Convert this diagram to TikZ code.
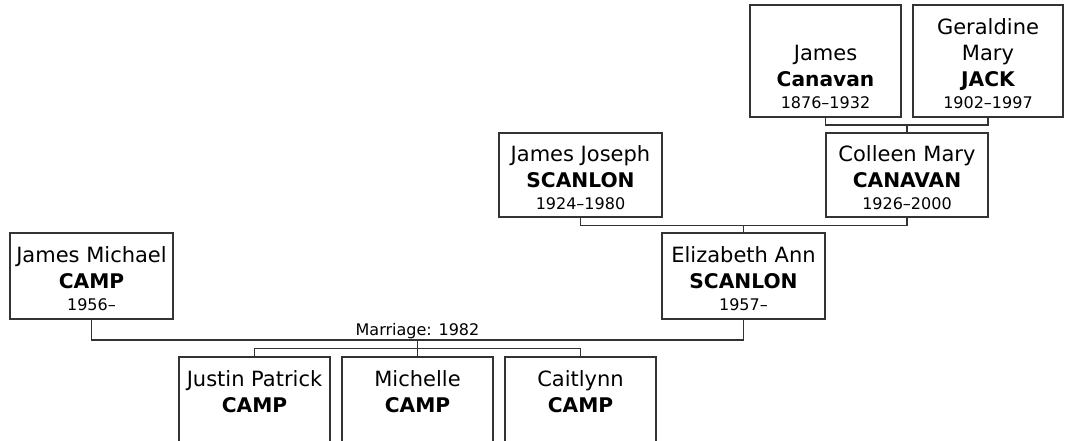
\documentclass[tikz,border=0pt]{standalone}
\usepackage{fontspec}
\setmainfont{DejaVu Sans}
\newcommand{\datef}{\fontsize{16}{19}\selectfont}
\newcommand{\boldf}{\fontsize{20.2}{26}\selectfont\bfseries}
\newcommand{\topstrut}{\rule{0pt}{22pt}}
\newcommand{\pers}[3]{#1\\{\boldf #2}\\[-4pt]{\datef #3}}
\begin{document}
\begin{tikzpicture}[x=1pt,y=-1pt,
  pbox/.style={draw=black!80, line width=1.2pt, fill=white, inner sep=0pt, align=center,
    font=\fontsize{21}{26}\selectfont},
  link/.style={draw=black!80, line width=1.2pt},
  lbl/.style={font=\fontsize{16}{19}\selectfont, inner sep=0pt}]
\useasboundingbox (0,0) rectangle (1066,441);
\clip (0,0) rectangle (1066,441);
% generation 1
\node[pbox, minimum width=151pt, minimum height=112pt] (JC) at (825.5,61) {\topstrut\\\pers{James}{Canavan}{1876–1932}};
\node[pbox, minimum width=150pt, minimum height=112pt] (GMJ) at (988,61) {\topstrut Geraldine\\\pers{Mary}{JACK}{1902–1997}};
% generation 2
\node[pbox, minimum width=163pt, minimum height=84pt] (JJS) at (580.5,175) {\pers{\topstrut James Joseph}{SCANLON}{1924–1980}};
\node[pbox, minimum width=162pt, minimum height=84pt] (CMC) at (907,175) {\pers{\topstrut Colleen Mary}{CANAVAN}{1926–2000}};
% generation 3
\node[pbox, minimum width=163pt, minimum height=86pt] (JMC) at (91.5,276) {\pers{\topstrut James Michael}{CAMP}{1956–}};
\node[pbox, minimum width=163pt, minimum height=86pt] (EAS) at (743.5,276) {\pers{\topstrut Elizabeth Ann}{SCANLON}{1957–}};
% children
\node[pbox, minimum width=151pt, minimum height=86pt] (JPC) at (254.5,400) {\pers{\topstrut Justin Patrick}{CAMP}{\phantom{0}}};
\node[pbox, minimum width=151pt, minimum height=86pt] (MC) at (417.5,400) {\pers{\topstrut Michelle}{CAMP}{\phantom{0}}};
\node[pbox, minimum width=151pt, minimum height=86pt] (CC) at (580.5,400) {\pers{\topstrut Caitlynn}{CAMP}{\phantom{0}}};
% junction points
\coordinate (m1) at (907,125);
\coordinate (m2) at (743.5,225.5);
\coordinate (m3) at (417.5,340);
\coordinate (m4) at (417.5,348.5);
% connectors
\draw[link] (JC.south) |- (m1) -| (GMJ.south);
\draw[link] (m1) -- (CMC.north);
\draw[link] (JJS.south) |- (m2) -| (CMC.south);
\draw[link] (m2) -- (EAS.north);
\draw[link] (JMC.south) |- (m3) -| (EAS.south);
\draw[link] (m3) -- (m4);
\draw[link] (JPC.north) |- (m4) -| (CC.north);
\draw[link] (m4) -- (MC.north);
\node[lbl, anchor=base] (mlbl) at (417.5,335) {Marriage: 1982};
\end{tikzpicture}
\end{document}
